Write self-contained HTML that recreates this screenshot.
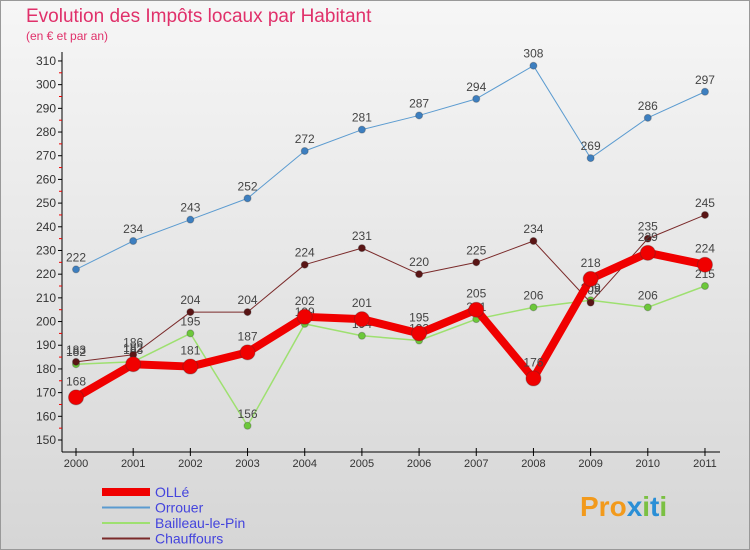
<!DOCTYPE html>
<html><head><meta charset="utf-8"><style>
body{margin:0;width:750px;height:550px;overflow:hidden;font-family:"Liberation Sans",sans-serif}
#wrap{position:absolute;left:0;top:0;width:748px;height:548px;border:1px solid #999;background:linear-gradient(#f6f6f6,#d6d6d6)}
</style></head><body>
<div id="wrap"></div>
<svg id="c" width="750" height="550" style="position:absolute;left:0;top:0">
<text x="26" y="22" font-size="19" fill="#e0306a">Evolution des Impôts locaux par Habitant</text>
<text x="26" y="40" font-size="12" fill="#e0306a">(en € et par an)</text>
<g id="axes"></g><g id="series"></g><g id="legend"></g>
<text x="580" y="516" font-size="28" font-weight="bold" fill="#f29a1c">Pro<tspan fill="#2a8fd6">x</tspan><tspan fill="#7bc043">i</tspan><tspan fill="#2a8fd6">t</tspan><tspan fill="#7bc043">i</tspan></text>
</svg>
<script>
const years=[2000,2001,2002,2003,2004,2005,2006,2007,2008,2009,2010,2011];
const olle=[168,182,181,187,202,201,195,205,176,218,229,224];
const orrouer=[222,234,243,252,272,281,287,294,308,269,286,297];
const bailleau=[182,183,195,156,199,194,192,201,206,209,206,215];
const chauffours=[183,186,204,204,224,231,220,225,234,208,235,245];
const yTicks=[150,160,170,180,190,200,210,220,230,240,250,260,270,280,290,300,310];
const NS="http://www.w3.org/2000/svg";
function X(i){return 76+i*57.18}
function Y(v){return 440-(v-150)*2.369}
function mk(p,t,a){const e=document.createElementNS(NS,t);for(const k in a)e.setAttribute(k,a[k]);p.appendChild(e);return e}
const ax=document.getElementById('axes');
let e=mk(ax,'line',{x1:62,y1:52,x2:62,y2:452,stroke:'#000'});

e=mk(ax,'line',{x1:62,y1:452,x2:720,y2:452,stroke:'#000'});

yTicks.forEach(v=>{mk(ax,'line',{x1:58,y1:Y(v),x2:62,y2:Y(v),stroke:'#000'});
 if(v<310)mk(ax,'line',{x1:59,y1:Y(v+5),x2:62,y2:Y(v+5),stroke:'#e00'});
 const t=mk(ax,'text',{x:56,y:Y(v)+4,'font-size':12,fill:'#333','text-anchor':'end'});t.textContent=v;
 });
years.forEach((y,i)=>{mk(ax,'line',{x1:X(i),y1:448,x2:X(i),y2:456,stroke:'#000'});
 const t=mk(ax,'text',{x:X(i),y:467,'font-size':11,fill:'#333','text-anchor':'middle'});t.textContent=y;
 });
const S=[['orrouer',orrouer,'#5b9bd0',1,3.5,'#3d7fc0'],['bailleau-le-pin',bailleau,'#9ee070',1.5,3.5,'#6cc83a'],['chauffours',chauffours,'#7a2a2a',1,3.5,'#5a1515'],['olle',olle,'#f00000',8,7.5,'#f00000']];
const sg=document.getElementById('series');
S.forEach(([n,d,c,w,r,fc])=>{
 const g=mk(sg,'g',{});
 const p=mk(g,'polyline',{points:d.map((v,i)=>X(i)+','+Y(v)).join(' '),fill:'none',stroke:c,'stroke-width':w,'stroke-linejoin':'round'});
 
 d.forEach((v,i)=>{const ci=mk(g,'circle',{cx:X(i),cy:Y(v),r:r,fill:fc,stroke:'#333','stroke-opacity':0.3});
  
  const t=mk(g,'text',{x:X(i),y:Y(v)-8-(r>5?4:0),'font-size':12,fill:'#444','text-anchor':'middle'});t.textContent=v;
  });
});
const lg=document.getElementById('legend');
[['OLLé','#f00000',8],['Orrouer','#5b9bd0',2],['Bailleau-le-Pin','#9ee070',2],['Chauffours','#7a2a2a',2]].forEach(([n,c,w],i)=>{
 const y=492+i*15.5;
 const l=mk(lg,'line',{x1:102,y1:y,x2:150,y2:y,stroke:c,'stroke-width':w});
 
 const t=mk(lg,'text',{x:155,y:y+5,'font-size':14,fill:'#4444dd'});t.textContent=n;
 });
</script>
</body></html>
